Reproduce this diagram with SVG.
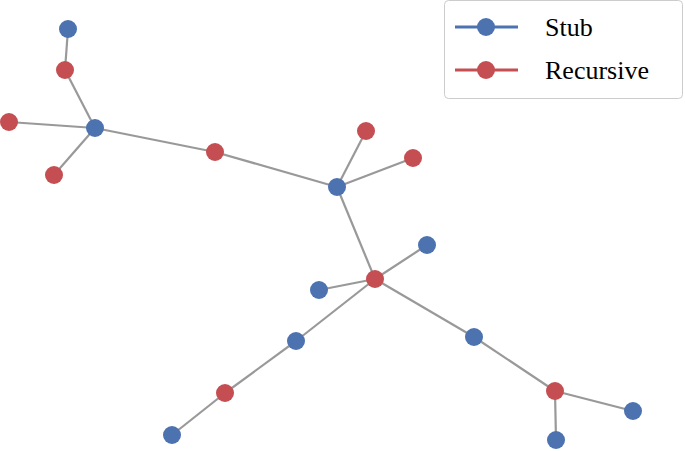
<svg xmlns="http://www.w3.org/2000/svg" width="685" height="451" viewBox="0 0 685 451">
<style>
.e{stroke:#999;stroke-width:2.2;fill:none}
.b{fill:#4c72b0}
.r{fill:#c44e52}
.t{font-family:"Liberation Serif",serif;font-size:26px;fill:#000}
</style>
<rect width="685" height="451" fill="#fff"/>
<g id="connectors" class="e">
<line x1="68" y1="29" x2="65" y2="70"/><line x1="65" y1="70" x2="95" y2="128"/>
<line x1="9" y1="122" x2="95" y2="128"/><line x1="54" y1="175" x2="95" y2="128"/>
<line x1="95" y1="128" x2="215" y2="152"/><line x1="215" y1="152" x2="337" y2="187"/>
<line x1="337" y1="187" x2="366" y2="131"/><line x1="337" y1="187" x2="413" y2="158"/>
<line x1="337" y1="187" x2="375" y2="279"/><line x1="375" y1="279" x2="427" y2="245"/>
<line x1="375" y1="279" x2="319" y2="290"/><line x1="375" y1="279" x2="296" y2="341"/>
<line x1="296" y1="341" x2="225" y2="393"/><line x1="225" y1="393" x2="172" y2="435"/>
<line x1="375" y1="279" x2="474" y2="337"/><line x1="474" y1="337" x2="555" y2="391"/>
<line x1="555" y1="391" x2="633" y2="411"/><line x1="555" y1="391" x2="556" y2="440"/>
</g>
<g id="b1" class="b"><circle cx="68" cy="29" r="9"/></g>
<g id="b2" class="b"><circle cx="95" cy="128" r="9"/></g>
<g id="b3" class="b"><circle cx="337" cy="187" r="9"/></g>
<g id="b4" class="b"><circle cx="427" cy="245" r="9"/></g>
<g id="b5" class="b"><circle cx="319" cy="290" r="9"/></g>
<g id="b6" class="b"><circle cx="296" cy="341" r="9"/></g>
<g id="b7" class="b"><circle cx="474" cy="337" r="9"/></g>
<g id="b8" class="b"><circle cx="172" cy="435" r="9"/></g>
<g id="b9" class="b"><circle cx="633" cy="411" r="9"/></g>
<g id="b10" class="b"><circle cx="556" cy="440" r="9"/></g>
<g id="r1" class="r"><circle cx="65" cy="70" r="9"/></g>
<g id="r2" class="r"><circle cx="9" cy="122" r="9"/></g>
<g id="r3" class="r"><circle cx="54" cy="175" r="9"/></g>
<g id="r4" class="r"><circle cx="215" cy="152" r="9"/></g>
<g id="r5" class="r"><circle cx="366" cy="131" r="9"/></g>
<g id="r6" class="r"><circle cx="413" cy="158" r="9"/></g>
<g id="r7" class="r"><circle cx="375" cy="279" r="9"/></g>
<g id="r8" class="r"><circle cx="225" cy="393" r="9"/></g>
<g id="r9" class="r"><circle cx="555" cy="391" r="9"/></g>
<g id="legend">
<rect x="444.5" y="0.5" width="238" height="98" rx="4" fill="#fff" stroke="#ccc"/>
<line x1="455" y1="27" x2="518" y2="27" stroke="#4c72b0" stroke-width="3"/>
<circle cx="486" cy="27" r="9" class="b"/>
<text x="545" y="36" class="t">Stub</text>
<line x1="455" y1="70" x2="518" y2="70" stroke="#c44e52" stroke-width="3"/>
<circle cx="486" cy="70" r="9" class="r"/>
<text x="545" y="79" class="t">Recursive</text>
</g>
</svg>
